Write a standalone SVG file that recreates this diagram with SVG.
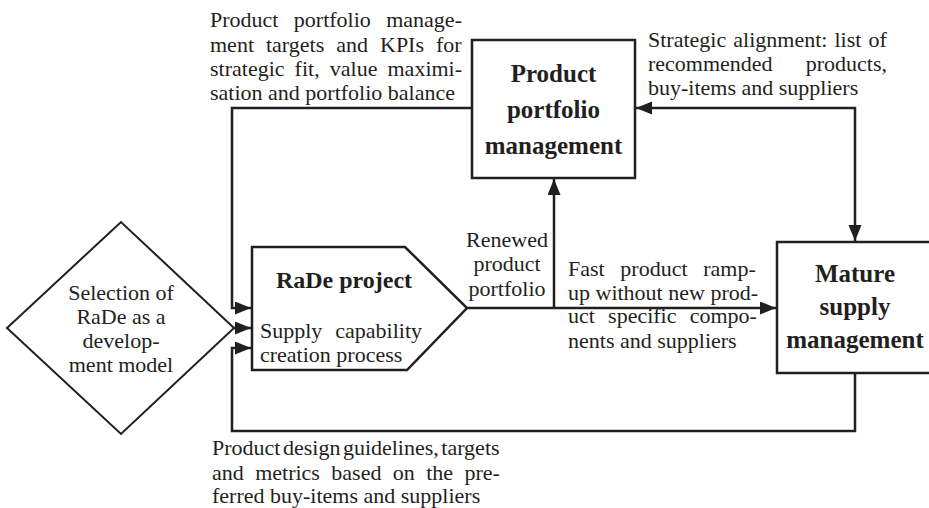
<svg xmlns="http://www.w3.org/2000/svg" width="929" height="508" viewBox="0 0 929 508">
  <style>
    .box { fill: #ffffff; stroke: #231f20; stroke-width: 2.5; }
    .dia { fill: #ffffff; stroke: #231f20; stroke-width: 2; }
    .wire { fill: none; stroke: #231f20; stroke-width: 2.5; }
    .t { font-family: "Liberation Serif", "Times New Roman", serif; font-size: 22px; fill: #231f20; }
    .b { font-family: "Liberation Serif", "Times New Roman", serif; font-size: 25px; font-weight: bold; fill: #231f20; text-anchor: middle; }
    .c { text-anchor: middle; }
  </style>
  <defs>
    <marker id="arrow" markerUnits="userSpaceOnUse" markerWidth="17" markerHeight="14" refX="16" refY="6.5" orient="auto-start-reverse">
      <path d="M0,0 L16,6.5 L0,13 z" fill="#231f20"/>
    </marker>
  </defs>

  <!-- connectors -->
  <g id="connectors">
    <path class="wire" d="M472,108 H232 V308 H251" marker-end="url(#arrow)"/>
    <path class="wire" d="M234,328 H251" marker-end="url(#arrow)"/>
    <path class="wire" d="M855,373 V431 H232 V348 H251" marker-end="url(#arrow)"/>
    <path class="wire" d="M467,308 H776" marker-end="url(#arrow)"/>
    <path class="wire" d="M554,308 V179" marker-end="url(#arrow)"/>
    <path class="wire" d="M636,108 H855 V241" marker-start="url(#arrow)" marker-end="url(#arrow)"/>
  </g>

  <!-- decision: choice of development model -->
  <g id="selection">
    <polygon class="dia" points="7,328 121,222 234,328 121,434"/>
    <text class="t c" x="121" y="300">Selection of</text>
    <text class="t c" x="121" y="324">RaDe as a</text>
    <text class="t c" x="121" y="348">develop-</text>
    <text class="t c" x="121" y="372">ment model</text>
  </g>

  <!-- RaDe project -->
  <g id="rade-project">
    <polygon class="box" points="252,247 405,247 467,308 407,370 252,370"/>
    <text class="b" x="344" y="288" style="font-size:24px">RaDe project</text>
    <text class="t" x="260" y="338" word-spacing="7.4">Supply capability</text>
    <text class="t" x="260" y="362">creation process</text>
  </g>

  <!-- Product portfolio management -->
  <g id="portfolio-management">
    <rect class="box" x="472" y="40" width="163" height="138"/>
    <text class="b" x="553.5" y="82">Product</text>
    <text class="b" x="553.5" y="118">portfolio</text>
    <text class="b" x="553.5" y="154">management</text>
  </g>

  <!-- Mature supply management -->
  <g id="mature-supply">
    <rect class="box" x="777" y="242" width="160" height="131"/>
    <text class="b" x="855" y="282">Mature</text>
    <text class="b" x="855" y="315">supply</text>
    <text class="b" x="855" y="348">management</text>
  </g>

  <!-- connector labels -->
  <g id="labels">
    <text class="t" x="210" y="27" word-spacing="9.9">Product portfolio manage-</text>
    <text class="t" x="210" y="51.5" word-spacing="6.5">ment targets and KPIs for</text>
    <text class="t" x="210" y="76" word-spacing="4.6">strategic fit, value maximi-</text>
    <text class="t" x="210" y="100">sation and portfolio balance</text>

    <text class="t" x="648" y="47" word-spacing="1.6">Strategic alignment: list of</text>
    <text class="t" x="648" y="71" word-spacing="27.6">recommended products,</text>
    <text class="t" x="648" y="95">buy-items and suppliers</text>

    <text class="t c" x="507" y="247">Renewed</text>
    <text class="t c" x="507" y="271">product</text>
    <text class="t c" x="507" y="296">portfolio</text>

    <text class="t" x="568" y="276" word-spacing="10.2">Fast product ramp-</text>
    <text class="t" x="568" y="300">up without new prod-</text>
    <text class="t" x="568" y="323" word-spacing="7.7">uct specific compo-</text>
    <text class="t" x="568" y="348">nents and suppliers</text>

    <text class="t" x="212" y="455" word-spacing="-3">Product design guidelines, targets</text>
    <text class="t" x="212" y="480" word-spacing="5.9">and metrics based on the pre-</text>
    <text class="t" x="212" y="503">ferred buy-items and suppliers</text>
  </g>
</svg>
